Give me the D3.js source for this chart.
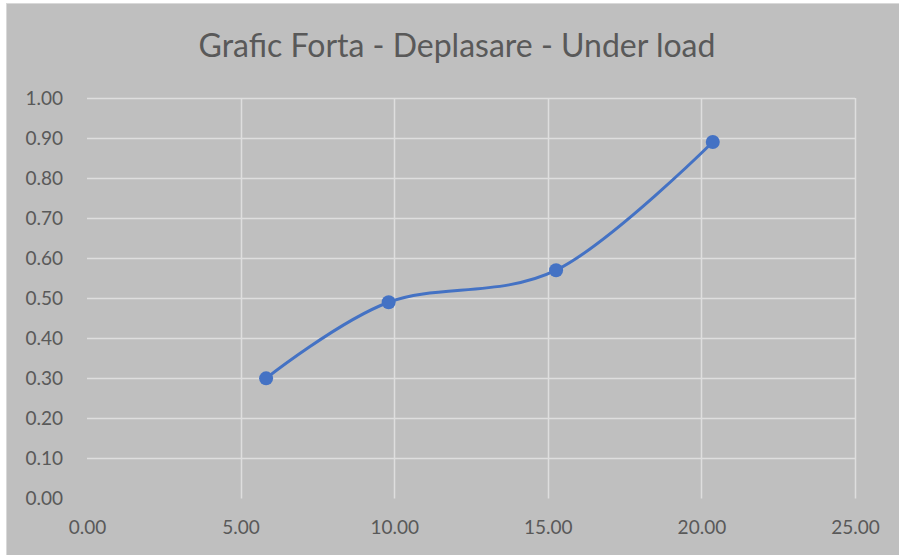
<!DOCTYPE html>
<html>
<head>
<meta charset="utf-8">
<script src="https://cdn.jsdelivr.net/npm/d3@7"></script>
<style>
  body { margin: 0; background: #fff; }
  svg { display: block; }
</style>
</head>
<body>
<script>
// data
const deplasare = [5.83, 9.82, 15.27, 20.37];
const forta = [0.30, 0.49, 0.57, 0.89];
const xTicks = [0, 5, 10, 15, 20, 25];
const yTicks = [0, 0.1, 0.2, 0.3, 0.4, 0.5, 0.6, 0.7, 0.8, 0.9, 1.0];
const title = "Grafic Forta - Deplasare - Under load";

const w = 899;
const h = 555;
const font = "Lato, 'Open Sans', sans-serif";

const svg = d3.select("body").append("svg").attr("width", w).attr("height", h);

// chart background
svg
  .append("rect")
  .attr("x", 6.5)
  .attr("y", 3.5)
  .attr("width", w)
  .attr("height", h)
  .attr("fill", "#bfbfbf")
  .attr("stroke", "#d9d9d9");

// scales
const xScale = d3.scaleLinear().domain([0, 25]).range([87, 855]);
const yScale = d3.scaleLinear().domain([0, 1]).range([498.5, 98]);

// gridlines
svg
  .append("g")
  .selectAll("line")
  .data(yTicks.filter((d) => d > 0))
  .enter()
  .append("line")
  .attr("x1", xScale(0))
  .attr("x2", xScale(25))
  .attr("y1", (d) => Math.round(yScale(d)) + 0.5)
  .attr("y2", (d) => Math.round(yScale(d)) + 0.5)
  .attr("stroke", "#dedede")
  .attr("stroke-width", 1.5);

svg
  .append("g")
  .selectAll("line")
  .data(xTicks.filter((d) => d > 0))
  .enter()
  .append("line")
  .attr("x1", (d) => Math.round(xScale(d)) + 0.5)
  .attr("x2", (d) => Math.round(xScale(d)) + 0.5)
  .attr("y1", yScale(1))
  .attr("y2", yScale(0))
  .attr("stroke", "#dedede")
  .attr("stroke-width", 1.5);

// axes (labels only)
const xAxis = d3.axisBottom(xScale).tickValues(xTicks).tickFormat(d3.format(".2f")).tickSize(0).tickPadding(22);
const yAxis = d3.axisLeft(yScale).tickValues(yTicks).tickFormat(d3.format(".2f")).tickSize(0).tickPadding(24);

const gx = svg.append("g").attr("transform", "translate(0," + yScale(0) + ")").call(xAxis);
const gy = svg.append("g").attr("transform", "translate(" + xScale(0) + ",0)").call(yAxis);

[gx, gy].forEach((g) => {
  g.select(".domain").remove();
  g.selectAll("text")
    .attr("fill", "#595959")
    .style("font-family", font)
    .style("font-size", "19px");
});

// smoothed line
const line = d3
  .line()
  .x((d, i) => xScale(deplasare[i]))
  .y((d) => yScale(d))
  .curve(d3.curveCatmullRom.alpha(0));

svg
  .append("path")
  .datum(forta)
  .attr("d", line)
  .attr("fill", "none")
  .attr("stroke", "#4472c4")
  .attr("stroke-width", 3)
  .attr("stroke-linecap", "round");

svg
  .selectAll("circle")
  .data(forta)
  .enter()
  .append("circle")
  .attr("cx", (d, i) => xScale(deplasare[i]))
  .attr("cy", (d) => yScale(d))
  .attr("r", 7)
  .attr("fill", "#4472c4");

// title
svg
  .append("text")
  .attr("x", 457)
  .attr("y", 57)
  .attr("text-anchor", "middle")
  .attr("fill", "#595959")
  .style("font-family", font)
  .style("font-size", "32px")
  .text(title);
</script>
</body>
</html>
